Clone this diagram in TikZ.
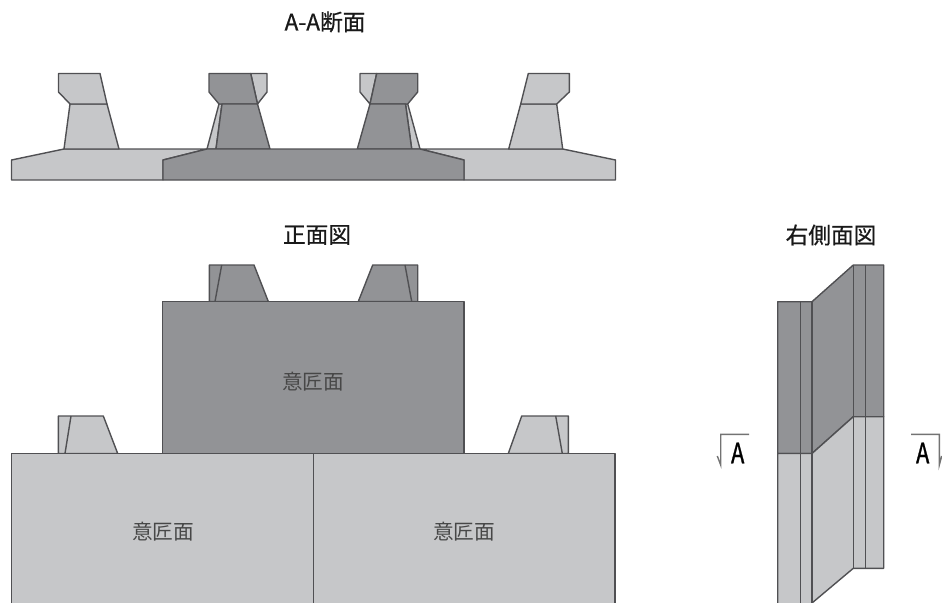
\documentclass[tikz,border=0pt]{standalone}
\usepackage{fontspec}
\setmainfont{Noto Sans CJK JP}
\newfontfamily\titlefont[FakeBold=0.6]{Noto Sans CJK JP}
\newfontfamily\markfont[FakeBold=1.2]{Noto Sans CJK JP}
\definecolor{lightgr}{HTML}{C6C7C9}
\definecolor{darkgr}{HTML}{929396}
\definecolor{edgegr}{HTML}{505053}
\tikzset{
  lightface/.style={fill=lightgr,draw=edgegr,line width=1.05pt,line join=round},
  darkface/.style={fill=darkgr,draw=edgegr,line width=1.05pt,line join=round},
  edge/.style={draw=edgegr,line width=1.05pt},
  markline/.style={draw=black!55,line width=1.05pt},
  title/.style={font=\titlefont\fontsize{17}{19}\selectfont,text=black!90,inner sep=0pt},
  face label/.style={font=\fontsize{15.5}{17}\selectfont,text=black!72,inner sep=0pt},
  sectionmark/.style={font=\markfont\fontsize{21}{22}\selectfont,text=black,inner sep=0pt,xscale=0.78},
}
\begin{document}
\begin{tikzpicture}[x=0.75pt,y=-0.75pt]
\useasboundingbox (0,0) rectangle (942,603);
% ---- A-A section ----
\node[title] (t1) at (325,22) {A-A断面};
% left light
\draw[lightface] (163,180) -- (11.5,180) -- (11.5,160) -- (64,149) -- (207,149) -- (163,160) -- cycle;
\draw[lightface] (64,149) -- (70,104) -- (107,104) -- (119,149) -- cycle;
\draw[lightface] (70,104) -- (58.5,92) -- (58.5,73.5) -- (100,73.5) -- (107,104) -- cycle;
% right light
\draw[lightface] (464,180) -- (615.5,180) -- (615.5,160) -- (562.7,149) -- (420,149) -- (464,160) -- cycle;
\draw[lightface] (508.7,149) -- (520.7,104) -- (556.7,104) -- (562.7,149) -- cycle;
\draw[lightface] (520.7,104) -- (528.3,73.5) -- (569.3,73.5) -- (569.3,92) -- (556.7,104) -- cycle;
% left dark upright
\draw[lightface] (207,149) -- (219,104) -- (222,104) -- (216,149) -- cycle;
\draw[lightface] (250.7,73.5) -- (267,73.5) -- (267,92) -- (257.5,104) -- cycle;
\draw[darkface] (209,73.5) -- (250.7,73.5) -- (257.5,104) -- (219,104) -- (209,92) -- cycle;
\draw[darkface] (222,104) -- (257.5,104) -- (270,149) -- (216,149) -- cycle;
% right dark upright
\draw[lightface] (407.7,104) -- (420,149) -- (411.7,149) -- (405.5,104) -- cycle;
\draw[lightface] (360,73.5) -- (376.7,73.5) -- (370,104) -- (360,92) -- cycle;
\draw[darkface] (376.7,73.5) -- (417.7,73.5) -- (417.7,92) -- (407.7,104) -- (370,104) -- cycle;
\draw[darkface] (370,104) -- (405.5,104) -- (411.7,149) -- (357.3,149) -- cycle;
% dark base
\draw[darkface] (163,180) -- (163,160) -- (207,149) -- (420,149) -- (464,160) -- (464,180) -- cycle;
% ---- front view ----
\node[title] (t2) at (317,235) {正面図};
\draw[darkface] (209.3,301.5) -- (209.3,265) -- (254,265) -- (268.3,301.5) -- cycle;
\draw[edge] (221.7,265) -- (215,301.5);
\draw[darkface] (417.7,301.5) -- (417.7,265) -- (372.7,265) -- (358.3,301.5) -- cycle;
\draw[edge] (405,265) -- (411.7,301.5);
\draw[darkface] (162.5,453.5) rectangle (464,301.5);
\draw[lightface] (58.3,453.5) -- (58.3,416) -- (103.3,416) -- (117.7,453.5) -- cycle;
\draw[edge] (71,416) -- (65,453.5);
\draw[lightface] (568.3,453.5) -- (568.3,416) -- (521.7,416) -- (508.3,453.5) -- cycle;
\draw[edge] (555.7,416) -- (562.3,453.5);
\draw[lightface] (11.5,604) -- (11.5,453.5) -- (615,453.5) -- (615,604);
\draw[edge] (313.5,453.5) -- (313.5,603);
\node[face label] (f1) at (313,382) {意匠面};
\node[face label] (f2) at (163,532) {意匠面};
\node[face label] (f3) at (464,532) {意匠面};
% ---- right side view ----
\node[title] (t3) at (831,235) {右側面図};
\draw[darkface] (777.7,453.5) -- (777.7,301.7) -- (812,301.7) -- (853.3,265) -- (883.7,265) -- (883.7,416.7) -- (853.3,416.7) -- (812,453.5) -- cycle;
\draw[lightface] (777.7,604) -- (777.7,453.5) -- (812,453.5) -- (853.3,416.7) -- (883.7,416.7) -- (883.7,568.3) -- (853.3,568.3) -- (812,603) -- (812,604);
\draw[edge] (800.7,301.7) -- (800.7,603);
\draw[edge] (812,301.7) -- (812,603);
\draw[edge] (853.3,265) -- (853.3,568.3);
\draw[edge] (865.7,265) -- (865.7,568.3);
% section marks
\node[sectionmark] (a1) at (737.7,453) {A};
\node[sectionmark] (a2) at (922.7,453) {A};
\draw[markline] (749,434.3) -- (720.7,434.3) -- (720.7,465) -- (717.3,456);
\draw[markline] (911,434.3) -- (939.3,434.3) -- (939.3,465) -- (941.7,456);
\end{tikzpicture}
\end{document}
